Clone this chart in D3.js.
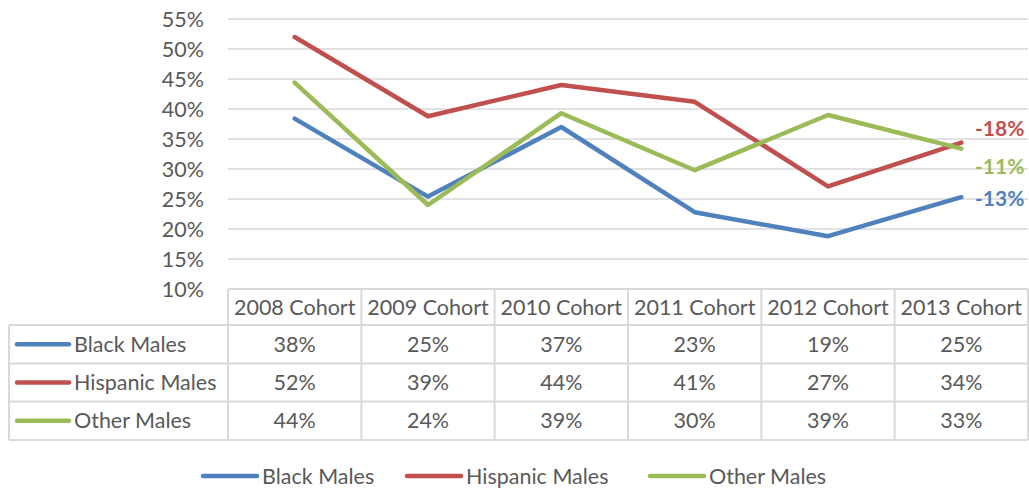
<!DOCTYPE html>
<html>
<head>
<meta charset="utf-8">
<script src="https://cdn.jsdelivr.net/npm/d3@7"></script>
<style>
  body { margin: 0; background: #fff; }
  text { font-family: Lato, "Noto Sans", sans-serif; fill: #595959; }
</style>
</head>
<body>
<div id="chart"></div>
<script>
// Chart data
var cohorts = ["2008 Cohort", "2009 Cohort", "2010 Cohort", "2011 Cohort", "2012 Cohort", "2013 Cohort"];
var blackMales = [0.384, 0.254, 0.370, 0.228, 0.188, 0.253];
var hispanicMales = [0.520, 0.388, 0.440, 0.412, 0.271, 0.344];
var otherMales = [0.444, 0.240, 0.393, 0.298, 0.390, 0.334];
var seriesNames = ["Black Males", "Hispanic Males", "Other Males"];
var changeLabels = ["-13%", "-18%", "-11%"];
var yTicks = [0.10, 0.15, 0.20, 0.25, 0.30, 0.35, 0.40, 0.45, 0.50, 0.55];

var colors = ["#4F81BD", "#C0504D", "#9BBB59"];
var series = [blackMales, hispanicMales, otherMales];

// SVG params
var svgWdt = 1029;
var svgHgt = 489;
var plotLft = 228, plotRgt = 1028, plotTop = 19, plotBot = 289;
var rowYs = [289, 325, 363.5, 401.5, 440];
var tblLft = 9;
var fontSz = "21.5px";

var svg = d3.select("#chart").append("svg")
    .attr("width", svgWdt)
    .attr("height", svgHgt);

// Scales
var xScl = d3.scaleBand().domain(cohorts).range([plotLft, plotRgt]);
var yScl = d3.scaleLinear().domain([0.10, 0.55]).range([plotBot, plotTop]);
var xMid = d => xScl(d) + xScl.bandwidth() / 2;

// Gridlines
svg.append("g").selectAll("line").data(yTicks.slice(1))
    .enter().append("line")
        .attr("x1", plotLft).attr("x2", plotRgt)
        .attr("y1", d => yScl(d)).attr("y2", d => yScl(d))
        .attr("stroke", "#d9d9d9").attr("stroke-width", 1.3);

// Y axis
var lftRule = d3.axisLeft(yScl).tickValues(yTicks).tickFormat(d3.format(".0%")).tickSize(0).tickPadding(0);
var yAxis = svg.append("g")
    .attr("transform", "translate(204,0)")
    .call(lftRule);
yAxis.select(".domain").remove();
yAxis.selectAll("text")
    .style("font-family", "Lato, 'Noto Sans', sans-serif")
    .style("font-size", fontSz)
    .attr("fill", "#595959")
    .attr("dy", "0.35em");

// Lines
var line = d3.line()
    .x((d, i) => xMid(cohorts[i]))
    .y(d => yScl(d));

svg.append("g").selectAll("path").data(series)
    .enter().append("path")
        .attr("d", d => line(d))
        .attr("fill", "none")
        .attr("stroke", (d, i) => colors[i])
        .attr("stroke-width", 4.5)
        .attr("stroke-linejoin", "round")
        .attr("stroke-linecap", "round");

// Change labels at line ends
var lblYs = [199, 129, 167];
svg.append("g").selectAll("text").data(changeLabels)
    .enter().append("text")
        .attr("x", 975)
        .attr("y", (d, i) => lblYs[i])
        .attr("dy", "0.35em")
        .style("font-size", "21px")
        .style("font-weight", "bold")
        .style("fill", (d, i) => colors[i])
        .text(d => d);

// Data table
var grid = svg.append("g")
    .attr("stroke", "#d9d9d9")
    .attr("stroke-width", 2);

grid.append("line")
    .attr("x1", plotLft).attr("x2", plotRgt)
    .attr("y1", rowYs[0]).attr("y2", rowYs[0]);
rowYs.slice(1).forEach(y => {
    grid.append("line")
        .attr("x1", tblLft).attr("x2", plotRgt)
        .attr("y1", y).attr("y2", y);
});
grid.append("line")
    .attr("x1", tblLft).attr("x2", tblLft)
    .attr("y1", rowYs[1]).attr("y2", rowYs[4]);
cohorts.forEach(c => {
    grid.append("line")
        .attr("x1", xScl(c)).attr("x2", xScl(c))
        .attr("y1", rowYs[0]).attr("y2", rowYs[4]);
});
grid.append("line")
    .attr("x1", plotRgt).attr("x2", plotRgt)
    .attr("y1", rowYs[0]).attr("y2", rowYs[4]);

// Header labels
svg.append("g").selectAll("text").data(cohorts)
    .enter().append("text")
        .attr("x", d => xMid(d))
        .attr("y", (rowYs[0] + rowYs[1]) / 2)
        .attr("dy", "0.35em")
        .attr("text-anchor", "middle")
        .style("font-size", fontSz)
        .text(d => d);

// Table rows
var pct = d3.format(".0%");
seriesNames.forEach((name, r) => {
    var yMid = (rowYs[r + 1] + rowYs[r + 2]) / 2;
    svg.append("line")
        .attr("x1", 17).attr("x2", 69)
        .attr("y1", yMid).attr("y2", yMid)
        .attr("stroke", colors[r])
        .attr("stroke-width", 4.5)
        .attr("stroke-linecap", "round");
    svg.append("text")
        .attr("x", 74)
        .attr("y", yMid)
        .attr("dy", "0.35em")
        .style("font-size", fontSz)
        .text(name);
    svg.append("g").selectAll("text").data(series[r])
        .enter().append("text")
            .attr("x", (d, i) => xMid(cohorts[i]))
            .attr("y", yMid)
            .attr("dy", "0.35em")
            .attr("text-anchor", "middle")
            .style("font-size", fontSz)
            .text(d => pct(d));
});

// Legend
var legX = [203, 407, 650];
var legY = 476;
var legGrp = svg.append("g");
seriesNames.forEach((name, i) => {
    legGrp.append("line")
        .attr("x1", legX[i]).attr("x2", legX[i] + 54)
        .attr("y1", legY).attr("y2", legY)
        .attr("stroke", colors[i])
        .attr("stroke-width", 4.5)
        .attr("stroke-linecap", "round");
    legGrp.append("text")
        .attr("x", legX[i] + 59)
        .attr("y", legY)
        .attr("dy", "0.35em")
        .style("font-size", fontSz)
        .text(name);
});
</script>
</body>
</html>
